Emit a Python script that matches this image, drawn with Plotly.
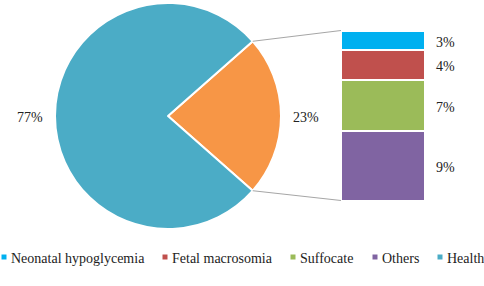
import math
import plotly.graph_objects as go

# ---- data ----
pie_labels = ["Complications", "Health"]
pie_values = [23, 77]
bar_labels = ["Others", "Suffocate", "Fetal macrosomia", "Neonatal hypoglycemia"]  # bottom -> top
bar_values = [9.4, 6.9, 4.1, 2.6]
legend_order = ["Neonatal hypoglycemia", "Fetal macrosomia", "Suffocate", "Others", "Health"]

colors = {
    "Health": "#4BACC6",
    "Complications": "#F79646",
    "Neonatal hypoglycemia": "#00B0F0",
    "Fetal macrosomia": "#C0504D",
    "Suffocate": "#9BBB59",
    "Others": "#8064A2",
}

W, H = 484, 286
FONT = "Times New Roman"

# ---- layout geometry ----
pie_cx, pie_cy, pie_r = 168, 116, 113          # px (from top-left)
pie_label_dist = 25                            # px beyond the rim
bar_left, bar_right = 341, 425                 # px
bar_top_px, bar_bottom_px = 30.5, 200.5        # px

total = sum(bar_values)
p0 = (H - bar_bottom_px) / H
p1 = (H - bar_top_px) / H
span = total / (p1 - p0)
y_r0 = -p0 * span
y_r1 = y_r0 + span

fig = go.Figure()

other_share = pie_values[0] / sum(pie_values)
fig.add_trace(go.Pie(
    labels=pie_labels, values=pie_values, sort=False, direction="clockwise",
    rotation=90 - other_share * 360 / 2,
    marker=dict(colors=[colors[l] for l in pie_labels], line=dict(color="white", width=2)),
    textinfo="none",
    domain=dict(x=[(pie_cx - pie_r) / W, (pie_cx + pie_r) / W],
                y=[(H - pie_cy - pie_r) / H, (H - pie_cy + pie_r) / H]),
    showlegend=False, hoverinfo="label+percent",
))

# percentage labels outside the pie, at each slice's mid angle
tot_pie = sum(pie_values)
ang = other_share * math.pi
for lab, v in zip(pie_labels, pie_values):
    frac = v / tot_pie
    mid = ang - frac * math.pi
    ang -= 2 * frac * math.pi
    rr = pie_r + pie_label_dist
    lx = pie_cx + rr * math.cos(mid)
    ly = pie_cy - rr * math.sin(mid)
    fig.add_annotation(x=lx / W, y=(H - ly) / H, xref="paper", yref="paper",
                       text=f"{round(100 * frac)}%", showarrow=False,
                       xanchor="center", yanchor="middle", yshift=-1,
                       font=dict(family=FONT, size=14, color="#222"))

for lab, v in zip(bar_labels, bar_values):
    fig.add_trace(go.Bar(
        x=[0], y=[v], width=1, name=lab,
        marker=dict(color=colors[lab], line=dict(color="white", width=2.5)),
        showlegend=False, hoverinfo="name+y",
    ))

# value labels on the right of the bar
cum = 0
for lab, v in zip(bar_labels, bar_values):
    fig.add_annotation(x=0.5, y=cum + v / 2, xref="x", yref="y", text=f"{round(v)}%",
                       showarrow=False, xanchor="left", xshift=9, yshift=-2,
                       font=dict(family=FONT, size=14, color="#222"))
    cum += v

# connector lines from the pie slice edges to the bar corners
half = other_share * math.pi
for sgn, yv in ((1, total), (-1, 0)):
    px = pie_cx + pie_r * math.cos(half)
    py = pie_cy - sgn * pie_r * math.sin(half)
    yb = (yv - y_r0) / span
    fig.add_shape(type="line", xref="paper", yref="paper",
                  x0=px / W, y0=(H - py) / H, x1=bar_left / W, y1=yb,
                  line=dict(color="#A6A6A6", width=1))

# legend (drawn as small squares + text)
leg_x = [4, 165, 293, 375, 440]
leg_y = 257
for lab, lx in zip(legend_order, leg_x):
    fig.add_shape(type="rect", xref="paper", yref="paper",
                  x0=(lx - 2.5) / W, x1=(lx + 2.5) / W,
                  y0=(H - leg_y - 2.5) / H, y1=(H - leg_y + 2.5) / H,
                  fillcolor=colors[lab], line=dict(width=0))
    fig.add_annotation(x=(lx + 5) / W, y=(H - leg_y - 1) / H, xref="paper", yref="paper",
                       text=lab, showarrow=False, xanchor="left", yanchor="middle",
                       font=dict(family=FONT, size=14, color="#222"))

fig.update_layout(
    width=W, height=H, margin=dict(l=0, r=0, t=0, b=0),
    paper_bgcolor="white", plot_bgcolor="white",
    font=dict(family=FONT, size=14, color="#222"),
    barmode="stack", bargap=0,
    xaxis=dict(domain=[bar_left / W, bar_right / W], range=[-0.5, 0.5], visible=False, fixedrange=True),
    yaxis=dict(domain=[0, 1], range=[y_r0, y_r1], visible=False, fixedrange=True),
)

fig.write_html("out.html", config={"displayModeBar": False},
               post_script="document.body.style.margin='0';")
